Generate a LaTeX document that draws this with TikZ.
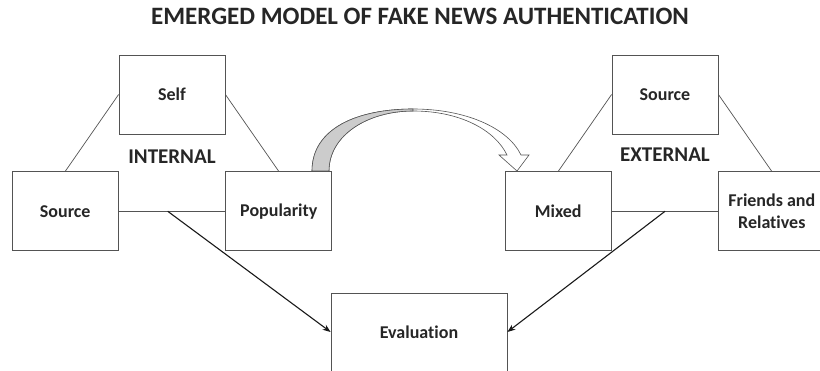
\documentclass[tikz,border=0pt]{standalone}
\usepackage{fontspec}
\setmainfont{Carlito}[Ligatures=NoCommon]
\usetikzlibrary{positioning,arrows.meta}

\begin{document}
\begin{tikzpicture}[x=1pt, y=-1pt,
    box/.style={rectangle, draw=gray!65!black, line width=0.8pt, minimum width=106pt, minimum height=79pt, inner sep=0pt, align=center, text=black!85, font=\bfseries\fontsize{18}{22}\selectfont},
    tag/.style={text=black!85, font=\bfseries\fontsize{21}{24}\selectfont},
    link/.style={draw=gray!65!black, line width=0.7pt},
    flow/.style={draw=black!90, line width=1.1pt, -{Stealth[length=8pt, width=6pt]}}]
\useasboundingbox (0,0) rectangle (820,371);

% Title
\node[text=black!85, font=\bfseries\fontsize{25}{28}\selectfont] (title) at (420,16) {EMERGED MODEL OF FAKE NEWS AUTHENTICATION};

% Internal triangle
\node[box] (self) at (172,94.5) {Self};
\node[box, below left=37pt and 0pt of self] (intsource) {Source};
\node[box, below right=37pt and 0pt of self] (popularity) {Popularity};
\node[tag] (internal) at (172,157) {INTERNAL};

% External triangle
\node[box] (extsource) at (665,94.5) {Source};
\node[box, below left=37pt and 0pt of extsource] (mixed) {Mixed};
\node[box, below right=37pt and 0pt of extsource] (friends) {Friends and\\Relatives};
\node[tag] (external) at (665,155) {EXTERNAL};

% Evaluation
\node[box, minimum width=176pt, minimum height=78pt] (evaluation) at (419,332) {Evaluation};

% Links
\draw[link] (self.west) -- (intsource.north);
\draw[link] (self.east) -- (popularity.north);
\draw[link] (intsource.east) -- coordinate[pos=0.46] (intmid) (popularity.west);
\draw[link] (extsource.west) -- (mixed.north);
\draw[link] (extsource.east) -- (friends.north);
\draw[link] (mixed.east) -- coordinate[pos=0.5] (extmid) (friends.west);

% Arrows
\draw[flow] (intmid) -- (evaluation.west);
\draw[flow] (extmid) -- (evaluation.east);

% Curved block arrow
\filldraw[fill=white, draw=gray!65!black, line width=0.6pt]
  (312,171) .. controls (312,128) and (358,109) .. (413,109)
  .. controls (466,109) and (508,128) .. (521,155)
  -- (529,155) -- (517,171) -- (499,155) -- (507,155)
  .. controls (495,130) and (460,111) .. (413,111)
  .. controls (368,111) and (329,135) .. (329,171) -- cycle;
\filldraw[fill=gray!40, draw=gray!65!black, line width=0.6pt]
  (312,171) .. controls (312,128) and (358,109) .. (413,109)
  -- (413,111) .. controls (368,111) and (329,135) .. (329,171) -- cycle;

\end{tikzpicture}
\end{document}
